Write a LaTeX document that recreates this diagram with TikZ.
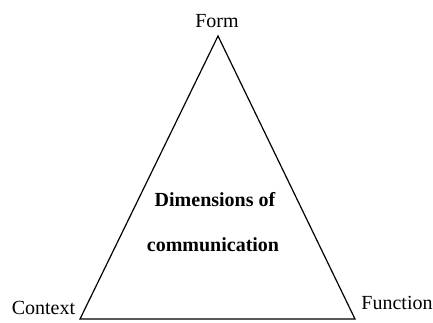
\documentclass[tikz,border=0pt]{standalone}
\usepackage{fontspec}
\setmainfont{Liberation Serif}
\begin{document}
\begin{tikzpicture}[
        x=0.5pt, y=-0.5pt,
        side/.style={draw, line width=0.6pt, line join=miter},
        every node/.style={inner sep=0pt, font=\fontsize{10}{12}\selectfont},
        centre/.style={font=\fontsize{10}{12}\selectfont\bfseries},
    ]
    \useasboundingbox (0,0) rectangle (433,322);
    \coordinate (top) at (218,36);
    \coordinate (left) at (80,319);
    \coordinate (right) at (355,319);
    \draw[side] (top) -- (left) -- (right) -- cycle;
    \node[](form) at (217,21){Form};
    \node[](context) at (43.5,308){Context};
    \node[](function) at (397,303){Function};
    \node[centre](dim) at (215,200){Dimensions of};
    \node[centre](comm) at (213,245){communication};
\end{tikzpicture}
\end{document}
